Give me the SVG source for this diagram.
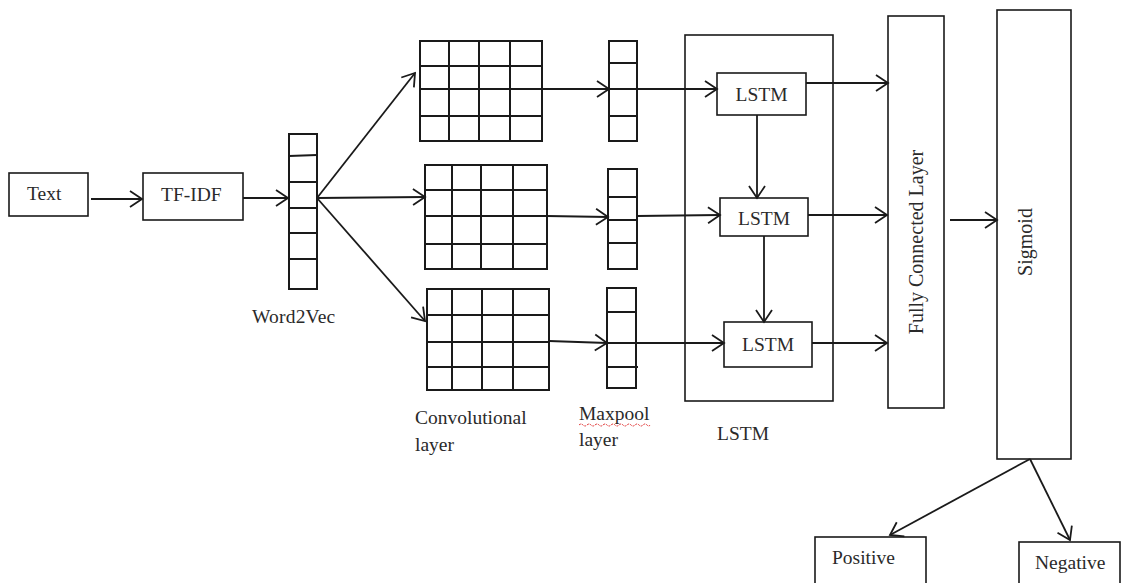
<svg xmlns="http://www.w3.org/2000/svg" width="1124" height="583" viewBox="0 0 1124 583">
<defs>
<marker id="arr" markerUnits="userSpaceOnUse" markerWidth="16" markerHeight="18" refX="13" refY="8" orient="auto" overflow="visible">
<path d="M1,0 L13,8 L1,16" fill="none" stroke="#1a1a1a" stroke-width="1.8"/>
</marker>
</defs>
<style>
.box{fill:#fff;stroke:#1a1a1a;stroke-width:1.6}
.grid{fill:none;stroke:#1a1a1a;stroke-width:2}
.c{fill:none;stroke:#1a1a1a;stroke-width:1.8;marker-end:url(#arr)}
.t{font-family:"Liberation Serif","Times New Roman",serif;font-size:19.5px;fill:#2a2a2a}
.l{font-size:19.5px}
.r{font-size:20px}
</style>
<rect width="1124" height="583" fill="#fff"/>

<g id="text-node"><rect class="box" x="9" y="173" width="79" height="43"/><text class="t" x="27" y="200">Text</text></g>
<g id="tfidf"><rect class="box" x="143" y="173" width="100" height="47"/><text class="t" x="161" y="201">TF-IDF</text></g>

<g id="word2vec">
<rect class="grid" x="289" y="134" width="28" height="155"/>
<path class="grid" d="M289,156 L317,155 M289,182 H317 M289,208 H317 M289,233 H317 M289,259 H317"/>
<text class="t l" x="252" y="323" letter-spacing="0.2">Word2Vec</text>
</g>

<g id="conv-top">
<rect class="grid" x="420" y="41" width="122" height="100"/>
<path class="grid" d="M449,41 V141 M479,41 V141 M510,41 V141 M420,66 H542 M420,89 H542 M420,116 H542"/>
</g>
<g id="conv-mid">
<rect class="grid" x="425" y="165" width="122" height="104"/>
<path class="grid" d="M452,165 V269 M481,165 V269 M513,165 V269 M425,190 H547 M425,216 H547 M425,244 H547"/>
</g>
<g id="conv-bot">
<rect class="grid" x="427" y="289" width="122" height="101"/>
<path class="grid" d="M452,289 V390 M482,289 V390 M513,289 V390 M427,315 H549 M427,342 H549 M427,367 H549"/>
</g>
<g id="conv-label">
<text class="t l" x="415" y="424">Convolutional</text>
<text class="t l" x="415" y="451">layer</text>
</g>

<g id="pool-top">
<rect class="grid" x="609" y="41" width="28" height="100"/>
<path class="grid" d="M609,63 H637 M609,89 H637 M609,116 H637"/>
</g>
<g id="pool-mid">
<rect class="grid" x="608" y="169" width="29" height="100"/>
<path class="grid" d="M608,197 H637 M608,220 H637 M608,243 H637"/>
</g>
<g id="pool-bot">
<rect class="grid" x="607" y="288" width="29" height="100"/>
<path class="grid" d="M607,312 H636 M607,343 H636 M607,367 H638"/>
</g>
<g id="pool-label">
<text class="t l" x="579" y="420">Maxpool</text>
<path d="M579,425 q2,-2 4,0 t4,0 t4,0 t4,0 t4,0 t4,0 t4,0 t4,0 t4,0 t4,0 t4,0 t4,0 t4,0 t4,0 t4,0 t4,0 t4,0 t3,0" fill="none" stroke="#e03030" stroke-width="1" stroke-dasharray="2,1"/>
<text class="t l" x="579" y="446">layer</text>
</g>

<g id="lstm-group">
<rect class="box" x="685" y="35" width="148" height="366" fill="none"/>
<text class="t" x="717" y="440">LSTM</text>
</g>
<g id="lstm1"><rect class="box" x="717" y="73" width="89" height="42"/><text class="t" x="761.5" y="101" text-anchor="middle">LSTM</text></g>
<g id="lstm2"><rect class="box" x="720" y="198" width="88" height="38"/><text class="t" x="764" y="225" text-anchor="middle">LSTM</text></g>
<g id="lstm3"><rect class="box" x="724" y="322" width="88" height="45"/><text class="t" x="768" y="351" text-anchor="middle">LSTM</text></g>

<g id="fc"><rect class="box" x="888" y="16" width="56" height="392"/><text class="t r" transform="translate(923,242) rotate(-90)" text-anchor="middle">Fully Connected Layer</text></g>
<g id="sigmoid"><rect class="box" x="997" y="10" width="74" height="449"/><text class="t r" transform="translate(1032,242) rotate(-90)" text-anchor="middle">Sigmoid</text></g>

<g id="positive"><rect class="box" x="815" y="537" width="111" height="60"/><text class="t" x="832" y="564">Positive</text></g>
<g id="negative"><rect class="box" x="1019" y="542" width="101" height="60"/><text class="t" x="1035" y="569">Negative</text></g>

<g id="connectors">
<line class="c" x1="91" y1="199" x2="142" y2="199"/>
<line class="c" x1="243" y1="198" x2="288" y2="198"/>
<line class="c" x1="317" y1="198" x2="415" y2="73"/>
<line class="c" x1="317" y1="198" x2="425" y2="197"/>
<line class="c" x1="317" y1="198" x2="425" y2="321"/>
<line class="c" x1="542" y1="89" x2="609" y2="89"/>
<line class="c" x1="547" y1="216" x2="608" y2="217"/>
<line class="c" x1="549" y1="341" x2="607" y2="343"/>
<line class="c" x1="637" y1="89" x2="717" y2="89"/>
<line class="c" x1="637" y1="216" x2="720" y2="215"/>
<line class="c" x1="636" y1="343" x2="724" y2="343"/>
<line class="c" x1="806" y1="83" x2="888" y2="83"/>
<line class="c" x1="808" y1="215" x2="887" y2="215"/>
<line class="c" x1="812" y1="343" x2="887" y2="343"/>
<line class="c" x1="757" y1="115" x2="757" y2="198"/>
<line class="c" x1="764" y1="236" x2="764" y2="322"/>
<line class="c" x1="950" y1="220" x2="997" y2="220"/>
<line class="c" x1="1030" y1="459" x2="890" y2="535"/>
<line class="c" x1="1030" y1="459" x2="1070" y2="540"/>
</g>
</svg>
